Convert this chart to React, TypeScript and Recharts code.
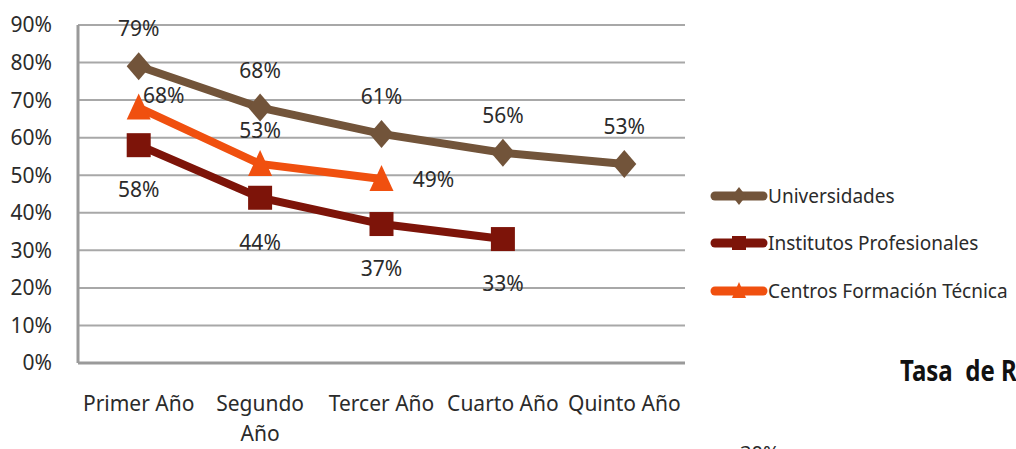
import React from "react";
import { LineChart, Line, XAxis, YAxis, CartesianGrid, Legend, LabelList } from "recharts";

// categories (a "\n" marks where the label wraps)
const years = ["Primer Año", "Segundo\nAño", "Tercer Año", "Cuarto Año", "Quinto Año"];

// series values, in %
const universidades = [79, 68, 61, 56, 53];
const institutos = [58, 44, 37, 33, null];
const centrosFT = [68, 53, 49, null, null];

const yTicks = [0, 10, 20, 30, 40, 50, 60, 70, 80, 90];

const data = years.map((year, i) => ({
  year,
  univ: universidades[i],
  inst: institutos[i],
  cft: centrosFT[i],
}));

const FONT = "'Noto Sans', sans-serif";
const TEXT = "#2b2b2b";

type Shape = "diamond" | "square" | "triangle";

const series = [
  {
    key: "univ",
    name: "Universidades",
    color: "#72543a",
    shape: "diamond" as Shape,
    labelOffset: [{ dx: 0, dy: -38 }],
  },
  {
    key: "inst",
    name: "Institutos Profesionales",
    color: "#7d1409",
    shape: "square" as Shape,
    labelOffset: [{ dx: 0, dy: 44 }],
  },
  {
    key: "cft",
    name: "Centros Formación Técnica",
    color: "#f0500f",
    shape: "triangle" as Shape,
    labelOffset: [
      { dx: 25, dy: -13 },
      { dx: 0, dy: -34 },
      { dx: 52, dy: 0 },
    ],
  },
];

function Marker({ cx, cy, shape, color, size }: { cx: number; cy: number; shape: Shape; color: string; size: number }) {
  const h = size / 2;
  if (shape === "diamond") {
    return <polygon points={`${cx},${cy - h - 2} ${cx + h},${cy} ${cx},${cy + h + 2} ${cx - h},${cy}`} fill={color} />;
  }
  if (shape === "square") {
    return <rect x={cx - h} y={cy - h} width={size} height={size} fill={color} />;
  }
  return <polygon points={`${cx},${cy - h - 2} ${cx + h},${cy + h} ${cx - h},${cy + h}`} fill={color} />;
}

function makeDot(shape: Shape, color: string) {
  return (props: any) => {
    const { cx, cy, index, value } = props;
    if (cx == null || cy == null || value == null) return <g key={`d-${index}`} />;
    return (
      <g key={`d-${index}`}>
        <Marker cx={cx} cy={cy} shape={shape} color={color} size={24} />
      </g>
    );
  };
}

function makeLabel(offsets: { dx: number; dy: number }[]) {
  return (props: any) => {
    const { x, y, value, index } = props;
    if (value == null || x == null || y == null) return null;
    const o = offsets[index] ?? offsets[0];
    return (
      <text
        x={x + o.dx}
        y={y + o.dy}
        textAnchor="middle"
        dominantBaseline="central"
        fontFamily={FONT}
        fontSize={21}
        fill={TEXT}
      >
        {value}%
      </text>
    );
  };
}

function YearTick(props: any) {
  const { x, y, payload } = props;
  const lines = String(payload.value).split("\n");
  return (
    <text x={x} y={y} textAnchor="middle" fontFamily={FONT} fontSize={21} fill={TEXT}>
      {lines.map((line, i) => (
        <tspan key={i} x={x} dy={i === 0 ? "0.72em" : 30}>
          {line}
        </tspan>
      ))}
    </text>
  );
}

function LegendBox() {
  return (
    <div style={{ fontFamily: FONT, fontSize: 19, color: TEXT }}>
      {series.map((s) => (
        <div key={s.key} style={{ display: "flex", alignItems: "center", height: 47.5 }}>
          <svg width={58} height={20} style={{ display: "block" }}>
            <line x1={5} y1={10} x2={53} y2={10} stroke={s.color} strokeWidth={9} strokeLinecap="round" />
            <Marker cx={29} cy={10} shape={s.shape} color={s.color} size={14} />
          </svg>
          <span style={{ whiteSpace: "nowrap" }}>{s.name}</span>
        </div>
      ))}
    </div>
  );
}

export default function App() {
  return (
    <div
      style={{
        position: "fixed",
        left: 0,
        top: 0,
        width: 1016,
        height: 449,
        overflow: "hidden",
        background: "#fff",
      }}
    >
      <LineChart width={1016} height={449} data={data} margin={{ top: 25, right: 331, bottom: 0, left: 0 }}>
        <CartesianGrid vertical={false} stroke="#a8a8a8" strokeWidth={2} />
        <XAxis
          dataKey="year"
          scale="band"
          height={86}
          interval={0}
          tickLine={false}
          tickSize={0}
          tickMargin={33}
          axisLine={{ stroke: "#9a9a9a", strokeWidth: 3 }}
          tick={<YearTick />}
        />
        <YAxis
          width={78}
          domain={[0, 90]}
          ticks={yTicks}
          interval={0}
          tickLine={false}
          tickSize={0}
          tickMargin={26}
          tickFormatter={(v: number) => `${v}%`}
          axisLine={{ stroke: "#9a9a9a", strokeWidth: 3 }}
          tick={{ fontFamily: FONT, fontSize: 21, fill: TEXT }}
        />
        <Legend
          layout="vertical"
          align="center"
          verticalAlign="middle"
          wrapperStyle={{ left: 710, top: 172, width: 300 }}
          content={() => <LegendBox />}
        />
        {series.map((s) => (
          <Line
            key={s.key}
            dataKey={s.key}
            name={s.name}
            stroke={s.color}
            strokeWidth={8}
            dot={makeDot(s.shape, s.color)}
            activeDot={false}
            isAnimationActive={false}
          >
            <LabelList dataKey={s.key} content={makeLabel(s.labelOffset)} />
          </Line>
        ))}
      </LineChart>
      <div
        style={{
          position: "absolute",
          left: 900,
          top: 356,
          fontFamily: FONT,
          fontWeight: 700,
          fontSize: 24,
          lineHeight: "32px",
          color: "#111",
          whiteSpace: "pre",
          transform: "scaleY(1.18)",
          transformOrigin: "0 26px",
        }}
      >
        {"Tasa  de R"}
      </div>
      <div
        style={{
          position: "absolute",
          left: 740,
          top: 439,
          fontFamily: FONT,
          fontSize: 20,
          color: TEXT,
        }}
      >
        30%
      </div>
    </div>
  );
}
